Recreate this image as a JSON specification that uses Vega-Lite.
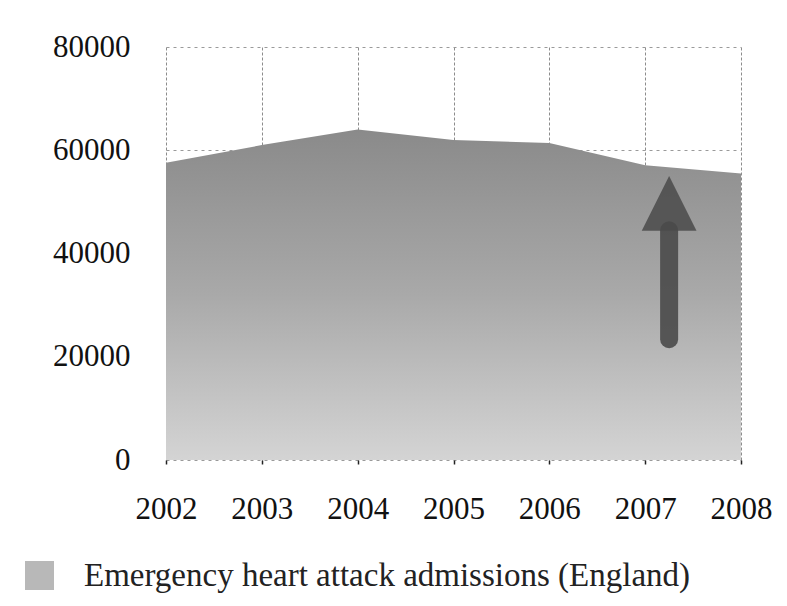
{
  "$schema": "https://vega.github.io/schema/vega-lite/v6.json",
  "width": 575,
  "height": 413,
  "autosize": "none",
  "padding": {"left": 166, "top": 47, "right": 46, "bottom": 146},
  "background": "white",
  "config": {"view": {"stroke": null}, "font": "Liberation Serif"},
  "data": {"values": [
    {"year": 2002, "admissions": 57600},
    {"year": 2003, "admissions": 61000},
    {"year": 2004, "admissions": 64000},
    {"year": 2005, "admissions": 62000},
    {"year": 2006, "admissions": 61400},
    {"year": 2007, "admissions": 57100},
    {"year": 2008, "admissions": 55500}
  ]},
  "layer": [
    {
      "mark": {"type": "area", "color": {"gradient": "linear", "x1": 0, "y1": 0, "x2": 0, "y2": 1,
        "stops": [{"offset": 0, "color": "#8a8a8a"}, {"offset": 0.5, "color": "#a9a9a9"}, {"offset": 1, "color": "#d4d4d4"}]}},
      "encoding": {
        "x": {"field": "year", "type": "quantitative",
          "scale": {"domain": [2002, 2008], "nice": false, "zero": false},
          "axis": {"title": null, "values": [2002, 2003, 2004, 2005, 2006, 2007, 2008], "format": "d",
            "grid": true, "gridColor": "#8c8c8c", "gridDash": [3, 2], "gridWidth": 1,
            "domain": false, "ticks": true, "tickColor": "#222", "tickSize": 4, "tickWidth": 1.5,
            "labelFontSize": 31, "labelColor": "#111", "labelPadding": 30, "labelFlush": false}},
        "y": {"field": "admissions", "type": "quantitative",
          "scale": {"domain": [0, 80000]},
          "axis": {"title": null, "values": [0, 20000, 40000, 60000, 80000], "format": "d",
            "grid": true, "gridColor": "#9a9a9a", "gridDash": [3, 4], "gridWidth": 1,
            "domain": false, "ticks": false, "labelFontSize": 31, "labelColor": "#111", "labelPadding": 36}}
      }
    },
    {
      "mark": {"type": "square", "opacity": 0},
      "encoding": {
        "x": {"field": "year", "type": "quantitative"},
        "y": {"field": "admissions", "type": "quantitative"},
        "color": {"datum": "Emergency heart attack admissions (England)", "type": "nominal",
          "scale": {"range": ["#b8b8b8"]},
          "legend": {"title": null, "orient": "none", "legendX": -143, "legendY": 512,
            "symbolType": "square", "symbolSize": 841, "symbolOpacity": 1,
            "labelFontSize": 33, "labelColor": "#222", "labelOffset": 28,
            "labelLimit": 800,
            "encode": {"symbols": {"update": {"opacity": {"value": 1}, "fillOpacity": {"value": 1}, "strokeWidth": {"value": 0}}}}}}
      }
    },
    {
      "data": {"values": [{"ax": 2007.25, "top": 44500, "bottom": 23400}]},
      "mark": {"type": "rule", "strokeWidth": 18, "strokeCap": "round", "color": "#4a4a4a", "opacity": 0.9},
      "encoding": {
        "x": {"field": "ax", "type": "quantitative"},
        "y": {"field": "top", "type": "quantitative"},
        "y2": {"field": "bottom"}
      }
    },
    {
      "data": {"values": [{"ax": 2007.25, "head": 49700}]},
      "mark": {"type": "point", "shape": "M0,-1L1,1L-1,1Z", "size": 3000, "filled": true, "color": "#4a4a4a", "opacity": 0.85},
      "encoding": {
        "x": {"field": "ax", "type": "quantitative"},
        "y": {"field": "head", "type": "quantitative"}
      }
    }
  ]
}
